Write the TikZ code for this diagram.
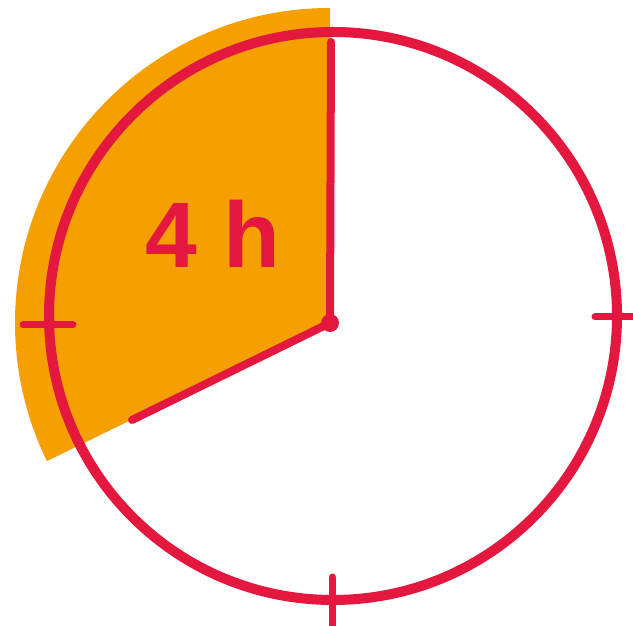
\documentclass[tikz,border=0pt]{standalone}
\usepackage{fontspec}
\setmainfont{Liberation Sans}
\definecolor{clockred}{RGB}{228,23,62}
\definecolor{clockorange}{RGB}{245,160,0}
\begin{document}
\begin{tikzpicture}[x=1pt,y=1pt,
  rim/.style={draw=clockred,line width=10pt},
  handline/.style={draw=clockred,line width=8pt,line cap=round},
  tickline/.style={draw=clockred,line width=7pt,line cap=round}]
\useasboundingbox (0,0) rectangle (633,626);
\clip (0,0) rectangle (633,626);
\coordinate (c) at (330,303);
\coordinate (o) at (333,310);
\coordinate (top) at (331,584);
\coordinate (hourend) at (132,206);
% orange sector
\fill[clockorange] (c) -- ++(90:315) arc[start angle=90,end angle=206,radius=315] -- cycle;
% rim
\draw[rim] (o) circle[radius=284];
% ticks
\coordinate (tl1) at (23,301); \coordinate (tl2) at (73,301);
\coordinate (tr1) at (595,309); \coordinate (tr2) at (650,309);
\coordinate (tb1) at (332,49); \coordinate (tb2) at (332,-10);
\draw[tickline] (tl1) -- (tl2);
\draw[tickline] (tr1) -- (tr2);
\draw[tickline] (tb1) -- (tb2);
% hands
\draw[handline] (top) -- (c);
\draw[handline] (c) -- (hourend);
\fill[clockred] (c) circle[radius=9];
% label
\node[anchor=base,inner sep=0pt,text=clockred,font=\fontsize{93}{93}\selectfont\bfseries] (lbl) at (213,358) {4 h};
\end{tikzpicture}
\end{document}
